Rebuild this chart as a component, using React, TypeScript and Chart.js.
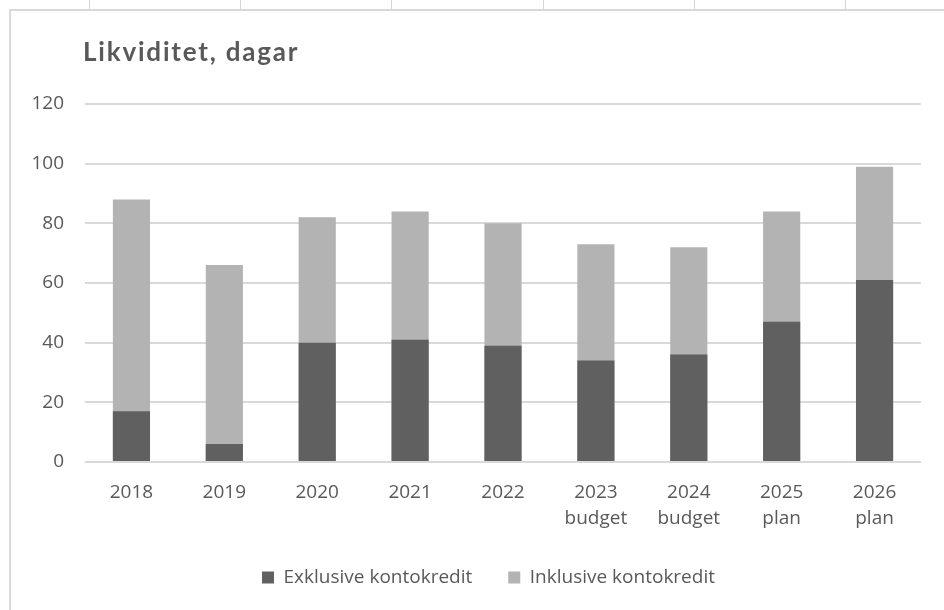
import React, { useEffect, useRef } from 'react';
import { Chart, registerables } from 'chart.js';

Chart.register(...registerables);

const categories: string[][] = [
  ['2018'], ['2019'], ['2020'], ['2021'], ['2022'],
  ['2023', 'budget'], ['2024', 'budget'], ['2025', 'plan'], ['2026', 'plan'],
];
const exklusive = [17, 6, 40, 41, 39, 34, 36, 47, 61];
const inklusive = [88, 66, 82, 84, 80, 73, 72, 84, 99];
const seriesNames = ['Exklusive kontokredit', 'Inklusive kontokredit'];
const titleText = 'Likviditet, dagar';
const yMin = 0;
const yMax = 120;
const yStep = 20;

const TEXT = '#595959';
const DARK = '#606060';
const LIGHT = '#b3b3b3';
const GRID = '#d9d9d9';
const FONT = "'Open Sans', sans-serif";

export default function App() {
  const ref = useRef<HTMLCanvasElement | null>(null);

  useEffect(() => {
    document.body.style.margin = '0';
    const canvas = ref.current;
    if (!canvas) return;

    const framePlugin = {
      id: 'frame',
      beforeInit(chart: any) {
        const lg = chart.legend;
        if (lg) {
          const orig = lg.fit;
          lg.fit = function () {
            orig.call(this);
            this.height = 82;
          };
        }
      },
      afterLayout(chart: any) {
        const lg = chart.legend;
        if (lg) {
          lg.left += 28;
          lg.right += 28;
          lg.top += 4;
          lg.bottom += 4;
        }
      },
      beforeDraw(chart: any) {
        const ctx = chart.ctx as any;
        ctx.save();
        ctx.fillStyle = '#ffffff';
        ctx.fillRect(0, 0, chart.width, chart.height);
        ctx.strokeStyle = '#d9d9d9';
        ctx.lineWidth = 2;
        ctx.beginPath();
        ctx.moveTo(10, chart.height);
        ctx.lineTo(10, 10);
        ctx.lineTo(chart.width, 10);
        ctx.stroke();
        ctx.strokeStyle = '#d4d4d4';
        ctx.lineWidth = 1;
        [89.5, 240.5, 391.5, 543.5, 694.5, 845.5].forEach((x) => {
          ctx.beginPath();
          ctx.moveTo(x, 0);
          ctx.lineTo(x, 9);
          ctx.stroke();
        });
        ctx.fillStyle = TEXT;
        ctx.font = 'bold 26px Lato, sans-serif';
        if ('letterSpacing' in ctx) ctx.letterSpacing = '1.8px';
        ctx.textBaseline = 'middle';
        ctx.textAlign = 'left';
        ctx.fillText(titleText, 83, 53);
        ctx.restore();
      },
    };

    const chart = new Chart(canvas, {
      type: 'bar',
      data: {
        labels: categories,
        datasets: [
          {
            label: seriesNames[0],
            data: exklusive,
            backgroundColor: DARK,
            categoryPercentage: 0.8,
            barPercentage: 0.5,
          },
          {
            label: seriesNames[1],
            data: inklusive,
            backgroundColor: LIGHT,
            categoryPercentage: 0.8,
            barPercentage: 0.5,
          },
        ],
      },
      options: {
        animation: false,
        responsive: false,
        maintainAspectRatio: false,
        layout: { padding: { left: 0, right: 23, top: 104, bottom: 0 } },
        scales: {
          x: {
            stacked: true,
            grid: { display: false, drawTicks: false },
            border: { display: false },
            ticks: {
              color: TEXT,
              font: { family: FONT, size: 19, lineHeight: 1.37 },
              padding: 18,
              maxRotation: 0,
              autoSkip: false,
            },
            afterFit(scale: any) {
              scale.height = 66;
            },
          },
          y: {
            stacked: false,
            min: yMin,
            max: yMax,
            grid: { color: GRID, lineWidth: 2, drawTicks: false },
            border: { display: false },
            ticks: {
              stepSize: yStep,
              color: TEXT,
              font: { family: FONT, size: 19 },
              padding: 21,
            },
            afterFit(scale: any) {
              scale.width = 85;
            },
          },
        },
        plugins: {
          legend: {
            position: 'bottom',
            labels: {
              color: TEXT,
              boxWidth: 12,
              boxHeight: 12,
              padding: 36,
              font: { family: FONT, size: 19 },
            },
          },
          tooltip: { enabled: false },
        },
      },
      plugins: [framePlugin],
    });

    return () => chart.destroy();
  }, []);

  return (
    <div style={{ position: 'absolute', left: 0, top: 0, width: 944, height: 610 }}>
      <canvas ref={ref} width={944} height={610} style={{ width: 944, height: 610 }} />
    </div>
  );
}
